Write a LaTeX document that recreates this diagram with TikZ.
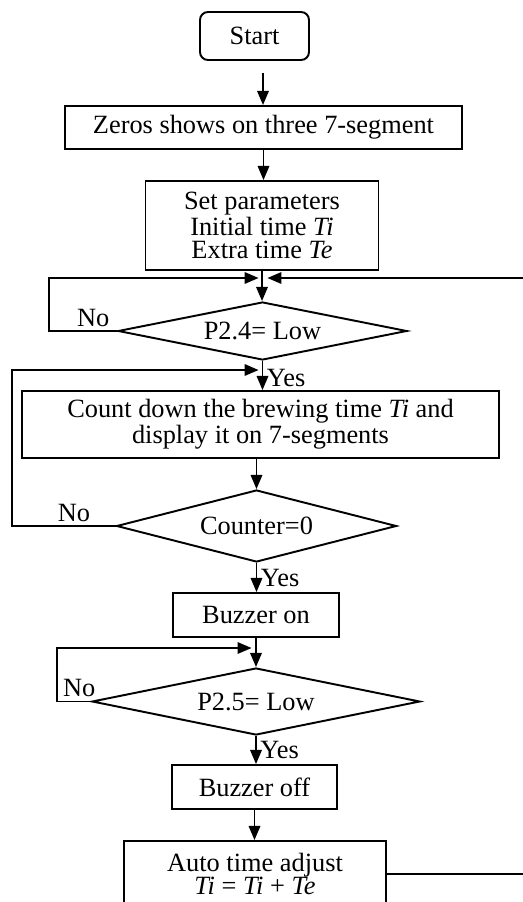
\documentclass[tikz,border=0pt]{standalone}
\usepackage{fontspec}
\setmainfont{Liberation Serif}
\usetikzlibrary{shapes.geometric,arrows.meta}

\tikzset{
  proc/.style={draw, line width=1.1pt, inner sep=0pt, align=center},
  decision/.style={draw, diamond, line width=1.1pt, inner sep=0pt, align=center},
  arr/.style={line width=1.1pt, -{Triangle[length=8pt,width=6.5pt]}},
  lbl/.style={inner sep=2pt},
}

\begin{document}
\begin{tikzpicture}[x=0.02cm, y=-0.02cm, font=\fontsize{15}{13.5}\selectfont]
        % Page frame
        \useasboundingbox (0,0) rectangle (523,902);
        \clip (0,0) rectangle (523,902);

        % Boxes and decisions
        \node[proc, rounded corners=4.5pt, minimum width=2.18cm, minimum height=0.96cm] (start) at (254.5,36) {Start};
        \node[proc, minimum width=7.94cm, minimum height=0.86cm] (zeros) at (263.5,127.5) {Zeros shows on three 7-segment};
        \node[proc, minimum width=4.66cm, minimum height=1.78cm] (param) at (262,225.5)
            {Set parameters\\Initial time \textit{Ti}\\Extra time \textit{Te}};
        \node[decision, aspect=4.98, minimum width=5.78cm, minimum height=1.16cm] (p24) at (262.5,331) {P2.4= Low};
        \node[proc, minimum width=9.54cm, minimum height=1.34cm] (count) at (260.5,424.5)
            {Count down the brewing time \textit{Ti} and\\display it on 7-segments};
        \node[decision, aspect=3.89, minimum width=5.6cm, minimum height=1.44cm] (zero) at (256.5,526) {Counter=0};
        \node[proc, minimum width=3.32cm, minimum height=0.88cm] (bon) at (256,615) {Buzzer on};
        \node[decision, aspect=4.9, minimum width=6.56cm, minimum height=1.34cm] (p25) at (256,701.5) {P2.5= Low};
        \node[proc, minimum width=3.3cm, minimum height=0.88cm] (boff) at (254.5,787) {Buzzer off};
        \node[proc, minimum width=5.24cm, minimum height=1.32cm] (adjust) at (255,874)
            {Auto time adjust\\\textit{Ti} = \textit{Ti} + \textit{Te}};

        % Junction points
        \coordinate (s0) at (263,73);
        \coordinate (j1) at (263,278);
        \coordinate (j2) at (263,370);
        \coordinate (j3) at (256,648);

        % Main flow
        \draw[arr] (s0) -- (s0 |- zeros.north);
        \draw[arr] (zeros.south) -- (zeros.south |- param.north);
        \draw[arr] (param.south) -- (param.south |- p24.north);
        \draw[arr] (p24.south) -- node[lbl, right, pos=.6] {Yes} (p24.south |- count.north);
        \draw[arr] (zero.north |- count.south) -- (zero.north);
        \draw[arr] (zero.south) -- node[lbl, right, pos=.5] {Yes} (zero.south |- bon.north);
        \draw[arr] (bon.south) -- (bon.south |- p25.north);
        \draw[arr] (p25.south) -- node[lbl, right, pos=.5] {Yes} (p25.south |- boff.north);
        \draw[arr] (boff.south) -- (boff.south |- adjust.north);

        % No loops
        \draw[arr, shorten >=2.5pt] (p24.west) -- node[lbl, above, pos=.35] {No} ++(-68,0) |- (j1);
        \draw[arr, shorten >=2.5pt] (zero.west) -- node[lbl, above, pos=.4] {No} ++(-104,0) |- (j2);
        \draw[arr, shorten >=2.5pt] (p25.west) -- node[lbl, above, pos=.35] {No} ++(-34,0) |- (j3);

        % Back to the first decision
        \draw[arr, shorten >=2.5pt] (adjust.east) -- ++(160,0) |- (j1);
\end{tikzpicture}
\end{document}
